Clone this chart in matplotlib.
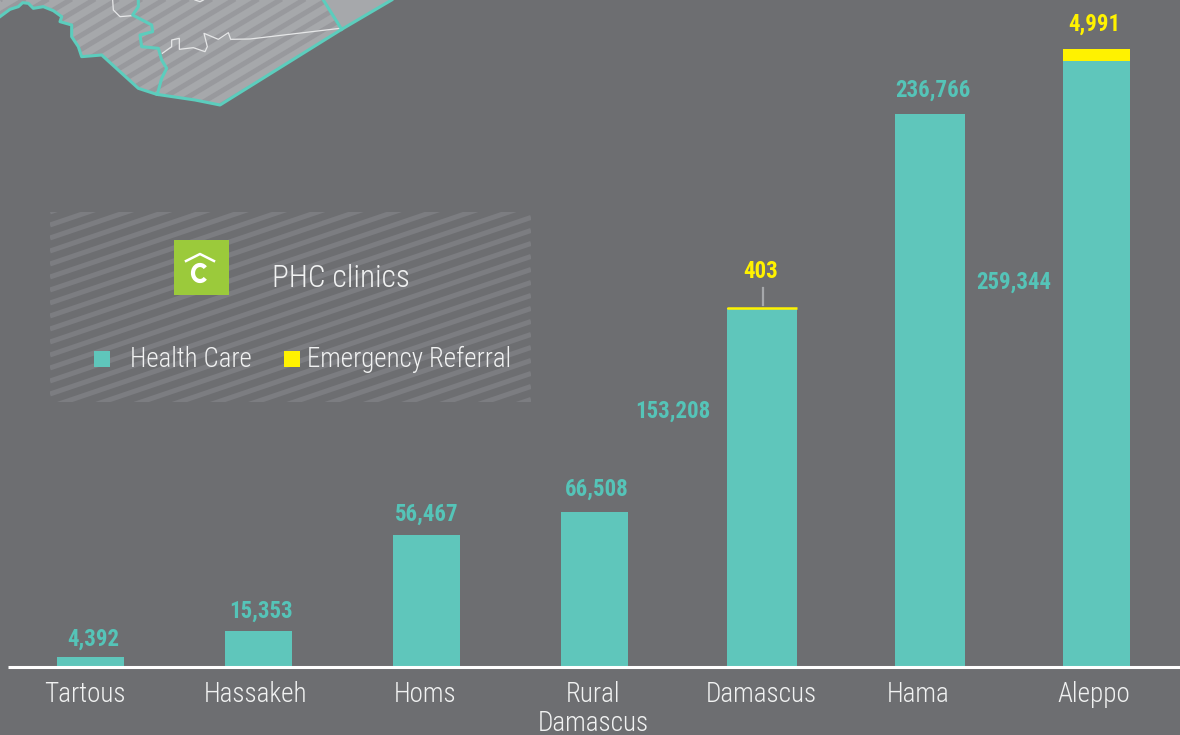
import numpy as np
import matplotlib
matplotlib.use('Agg')
import matplotlib.pyplot as plt
from matplotlib.patches import Polygon, Rectangle, Arc
from matplotlib import font_manager

cities = ['Tartous', 'Hassakeh', 'Homs', 'Rural\nDamascus', 'Damascus', 'Hama', 'Aleppo']
health_care = [4392, 15353, 56467, 66508, 153208, 236766, 259344]
emergency = [0, 0, 0, 0, 403, 0, 4991]

bg = '#6d6e71'
teal = '#5fc6bb'
teal_text = '#55c4b8'
yellow = '#fff200'

names = {f.name for f in font_manager.fontManager.ttflist}
narrow = 'Roboto'
for name in ['Roboto Condensed', 'Fira Sans Condensed', 'Archivo Narrow', 'PT Sans Narrow', 'Liberation Sans Narrow']:
    if name in names:
        narrow = name
        break
plt.rcParams['font.family'] = [narrow, 'DejaVu Sans']

fig = plt.figure(figsize=(11.8, 7.35), dpi=100, facecolor=bg)

# pixel axes for the map and the legend panel
px = fig.add_axes([0, 0, 1, 1], zorder=1)
px.set_xlim(0, 1180)
px.set_ylim(735, 0)
px.axis('off')

def stripes(ax, clip, x0, x1, y0, y1, slope, step, color, lw):
    for c in np.arange(y0 - step, y1 + (x1 - x0) * slope + step, step):
        ax.plot([x0, x1], [c, c - (x1 - x0) * slope], color=color, lw=lw,
                solid_capstyle='butt', clip_path=clip, zorder=2)

# map
coast = np.array([(0, 50), (30, 28), (55, 20), (68, 8), (85, 10), (100, 25), (130, 20), (160, 32),
                  (185, 50), (180, 65), (215, 75), (215, 110), (235, 140), (245, 170), (305, 165),
                  (415, 265), (470, 283), (585, 300), (660, 315), (1025, 88), (1175, 0)]) / 3
region = Polygon(np.vstack([coast[:-1], [(970 / 3, 0), (0, 0)]]), closed=True, fc='#a6a8ab', ec='none', zorder=1)
px.add_patch(region)
east = Polygon(np.array([(970, 0), (1025, 88), (1175, 0)]) / 3, closed=True, fc='#a6a8ab', ec='none', zorder=1)
px.add_patch(east)
stripes(px, region, 0, 345, 0, 110, 0.6, 14, '#98999d', 3.6)
px.plot(coast[:, 0], coast[:, 1], color='#5ccdbd', lw=2.2, zorder=4)
inner = np.array([(415, 0), (415, 20), (398, 45), (455, 75), (458, 95), (420, 105), (425, 140), (475, 145),
                  (485, 180), (500, 205), (485, 235), (472, 283)]) / 3
px.plot(inner[:, 0], inner[:, 1], color='#5ccdbd', lw=2.2, zorder=4)
px.plot([970 / 3, 1025 / 3], [0, 88 / 3], color='#5ccdbd', lw=2.2, zorder=4)
border1 = np.array([(487, 160), (515, 140), (515, 120), (538, 115), (538, 148), (580, 143), (615, 155),
                    (622, 140), (612, 100), (655, 118), (685, 98), (692, 118), (750, 117), (1020, 85)]) / 3
px.plot(border1[:, 0], border1[:, 1], color='#e6e7e8', lw=0.9, zorder=3)
border2 = np.array([(338, 0), (340, 30), (360, 50), (395, 47)]) / 3
px.plot(border2[:, 0], border2[:, 1], color='#e6e7e8', lw=0.9, zorder=3)
border3 = np.array([(585, 0), (600, 5), (610, 0)]) / 3
px.plot(border3[:, 0], border3[:, 1], color='#e6e7e8', lw=0.9, zorder=3)

# legend panel
panel = Polygon([(50, 212), (531, 212), (531, 402), (50, 402)], closed=True, fc=bg, ec='none', zorder=1)
px.add_patch(panel)
stripes(px, panel, 50, 531, 212, 402, 0.34, 13, '#7c7d81', 3.6)
px.add_patch(Rectangle((174, 240), 55, 55, fc='#9bca3b', ec='none', zorder=3))
px.plot([186, 200, 214], [261, 254, 261], color='white', lw=1.8, zorder=4)
px.add_patch(Arc((200, 273), 14, 16, theta1=45, theta2=315, color='white', lw=3, zorder=4))
px.text(272, 278, 'PHC clinics', color='#f1f2f2', fontsize=22.5, fontweight=300, ha='left', va='center', zorder=4)
px.add_patch(Rectangle((94, 351), 16, 16, fc=teal, ec='none', zorder=3))
px.text(130, 359, 'Health Care', color='#f1f2f2', fontsize=19.3, fontweight=300, ha='left', va='center', zorder=4)
px.add_patch(Rectangle((284, 351), 16, 16, fc=yellow, ec='none', zorder=3))
px.text(307, 359, 'Emergency Referral', color='#f1f2f2', fontsize=19.4, fontweight=300, ha='left', va='center', zorder=4)

# bars: y scale is value based, 0 sits on the white base line
scale = 606 / 259344
base = 667
ax = fig.add_axes([0, 0, 1, 1], zorder=2)
ax.patch.set_alpha(0)
ax.set_xlim(0, 1180)
ax.set_ylim((base - 735) / scale, base / scale)
ax.axis('off')

centers = [90.5, 258.5, 426.5, 594.5, 762, 930, 1096.5]
widths = [67, 67, 67, 67, 70, 70, 67]
label_x = [85, 256, 425, 593, 761, 918, 1094]
value_x = [93, 261, 427, 597, 673, 933, 1014]
value_y = [639, 611, 514, 489, 411, 90, 282]
em_y = {4: (761, 272), 6: (1094, 24)}

ax.bar(centers, health_care, width=widths, color=teal, zorder=2)
ax.bar(centers, emergency, width=widths, bottom=health_care, color=yellow, zorder=3)
# the Damascus referral bar is under a pixel high, so it gets a line on top
ax.plot([centers[4] - widths[4] / 2, centers[4] + widths[4] / 2], [health_care[4] + emergency[4]] * 2,
        color=yellow, lw=1.8, zorder=3, solid_capstyle='butt')
ax.plot([8, 1180], [0, 0], color='white', lw=2.2, zorder=4, solid_capstyle='butt')

for i, city in enumerate(cities):
    px_y = 695 if '\n' not in city else 709
    ax.text(label_x[i], (base - px_y) / scale, city, color='#f1f2f2', fontsize=19.5, fontweight=300, ha='center',
            va='center', linespacing=1.12, zorder=5)
    ax.text(value_x[i], (base - value_y[i]) / scale, f'{health_care[i]:,}', color=teal_text, fontsize=16.5,
            fontweight='bold', ha='center', va='center', zorder=5)
    if emergency[i]:
        ex, ey = em_y[i]
        ax.text(ex, (base - ey) / scale, f'{emergency[i]:,}', color=yellow, fontsize=16.5,
                fontweight='bold', ha='center', va='center', zorder=5)

ax.plot([763, 763], [(base - 288) / scale, (base - 305) / scale], color='#a6a8ab', lw=1.6, zorder=4)

fig.savefig('out.png', dpi=100, facecolor=bg)
